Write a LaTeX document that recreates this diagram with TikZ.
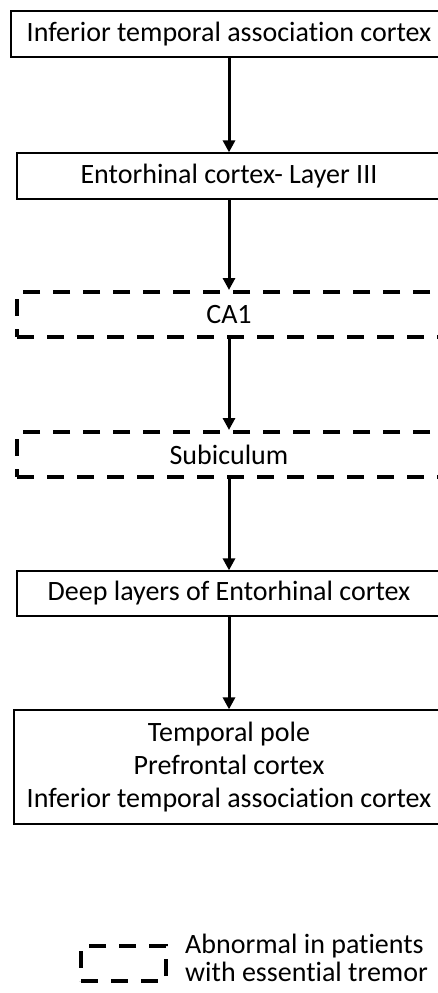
\documentclass[tikz,border=0pt]{standalone}
\usepackage{fontspec}
\setmainfont[RawFeature={-liga}]{Carlito}
\usetikzlibrary{arrows.meta}
\begin{document}
\begin{tikzpicture}[x=1pt,y=-1pt,
  solidbox/.style={draw=black,line width=1.3pt,rectangle,inner sep=0pt,align=center,font=\fontsize{28}{33}\selectfont},
  dashbox/.style={draw=black,line width=4pt,dash pattern=on 17pt off 13pt,rectangle,inner sep=0pt,align=center,font=\fontsize{28}{33}\selectfont},
  legtxt/.style={anchor=base west,inner sep=0pt,font=\fontsize{28}{29}\selectfont},
  flow/.style={line width=3pt,-{Triangle[width=12pt,length=12pt]}}]
\useasboundingbox[fill=white] (0,0) rectangle (438,993);
\node[solidbox,minimum width=436pt,minimum height=46pt] (itac) at (229,34) {Inferior temporal association cortex};
\node[solidbox,minimum width=424pt,minimum height=46pt] (ec3) at (229,176) {Entorhinal cortex- Layer III};
\node[dashbox,minimum width=424pt,minimum height=45pt] (ca1) at (229,314.5) {CA1};
\node[dashbox,minimum width=424pt,minimum height=45pt] (sub) at (229,454.5) {Subiculum};
\node[solidbox,minimum width=424pt,minimum height=45pt] (deep) at (229,593.5) {Deep layers of Entorhinal cortex};
\node[solidbox,minimum width=430pt,minimum height=114pt] (out) at (229,767) {Temporal pole\\Prefrontal cortex\\Inferior temporal association cortex};
\draw[flow] (itac.south) -- (ec3.north);
\draw[flow] (ec3.south) -- (ca1.north);
\draw[flow] (ca1.south) -- (sub.north);
\draw[flow] (sub.south) -- (deep.north);
\draw[flow] (deep.south) -- (out.north);
\node[draw=black,line width=4pt,dash pattern=on 17pt off 13pt,rectangle,minimum width=85pt,minimum height=35pt,inner sep=0pt] (leg) at (123.5,963.5) {};
\node[legtxt] (legtext1) at (185,953) {Abnormal in patients};
\node[legtxt] (legtext2) at (185,981) {with essential tremor};
\end{tikzpicture}
\end{document}
